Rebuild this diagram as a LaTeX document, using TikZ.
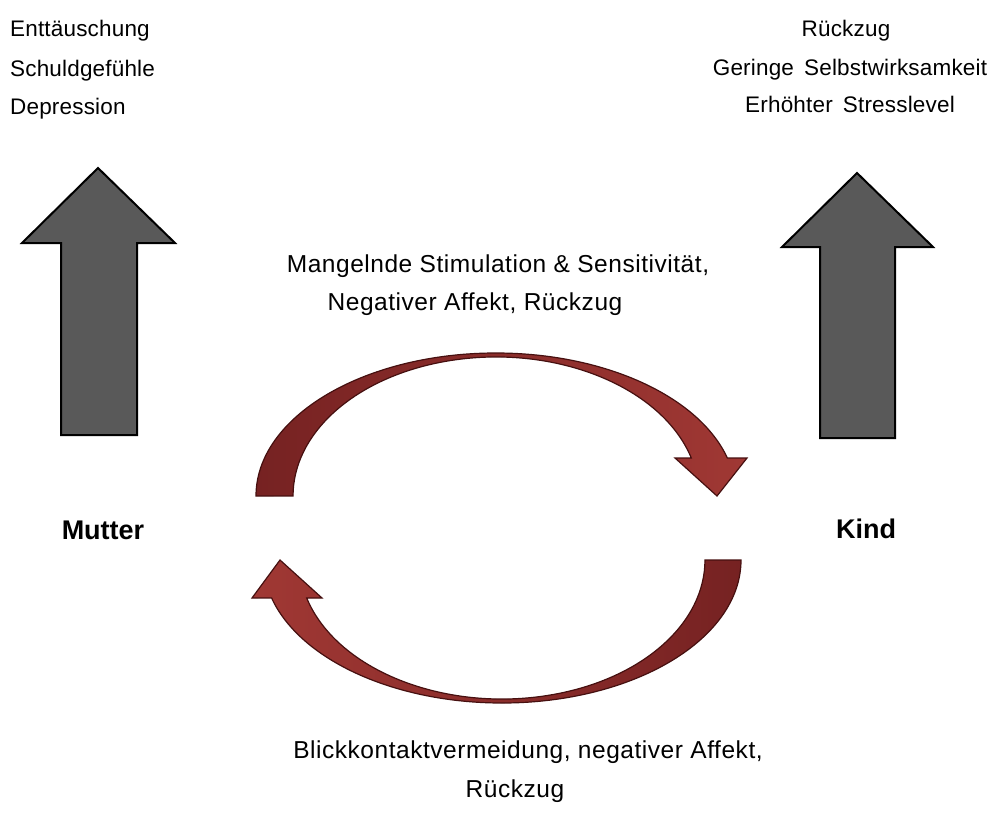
\documentclass[tikz,border=0pt]{standalone}
\usepackage{fontspec}
\setmainfont{Liberation Sans}
\usetikzlibrary{positioning}

\definecolor{greyd}{RGB}{89,89,89}
\definecolor{redlight}{RGB}{160,56,52}
\definecolor{reddark}{RGB}{118,34,34}
\definecolor{redline}{RGB}{70,16,16}

\tikzset{
    listtext/.style = {inner sep=0pt, font=\fontsize{22.5}{27}\selectfont\addfontfeatures{LetterSpace=0.8}},
    cycletext/.style = {inner sep=0pt, font=\fontsize{24.5}{29}\selectfont\addfontfeatures{LetterSpace=2.2}},
    persontext/.style = {inner sep=0pt, font=\fontsize{27}{32}\selectfont\bfseries},
    greyarrow/.style = {draw=black, line width=2pt, fill=greyd, line join=miter},
    redarrow/.style = {draw=redline, line width=1.2pt, line join=miter}
}

\begin{document}
\begin{tikzpicture}[x=1pt,y=1pt]
    \useasboundingbox (0,0) rectangle (992,-816);
    % upward arrows
    \draw[greyarrow] (61,-435) -- (61,-243) -- (22,-243) -- (98,-168) -- (175,-243) -- (137,-243) -- (137,-435) -- cycle;
    \draw[greyarrow] (820,-438) -- (820,-247) -- (782,-247) -- (857,-173) -- (933,-247) -- (895,-247) -- (895,-438) -- cycle;
    % curved arrows
    \draw[redarrow, left color=reddark, right color=redlight] (256,-496) arc (180:15.4:240 and 143) -- (747,-458) -- (717,-496) -- (675,-458) -- (691.3,-458) arc (15.86:180:203 and 139) -- cycle;
    \draw[redarrow, left color=redlight, right color=reddark] (741,-560) arc (360:195.4:239 and 143) -- (252,-598) -- (280,-560) -- (322,-598) -- (306.7,-598) arc (195.86:360:203 and 139) -- cycle;
    % labels
    \node[listtext, anchor=base west] (enttaeuschung) at (10,-37) {Enttäuschung};
    \node[listtext, anchor=base west] (schuld) at (10,-76) {Schuldgefühle};
    \node[listtext, anchor=base west] (depression) at (10,-114) {Depression};
    \node[listtext, anchor=base] (rueckzugk) at (846,-37) {Rückzug};
    \node[listtext, anchor=base] (selbst) at (850,-75) {Geringe\ \,Selbstwirksamkeit};
    \node[listtext, anchor=base] (stress) at (850,-112) {Erhöhter\ \,Stresslevel};
    \node[cycletext, anchor=base] (stimulation) at (498,-272) {Mangelnde Stimulation \& Sensitivität,};
    \node[cycletext, anchor=base] (affektm) at (475,-310) {Negativer Affekt, Rückzug};
    \node[persontext, anchor=base] (mutter) at (103,-539) {Mutter};
    \node[persontext, anchor=base] (kind) at (866,-538) {Kind};
    \node[cycletext, anchor=base] (blick) at (528,-758) {Blickkontaktvermeidung, negativer Affekt,};
    \node[cycletext, anchor=base] (rueckzugb) at (515,-797) {Rückzug};
\end{tikzpicture}
\end{document}
